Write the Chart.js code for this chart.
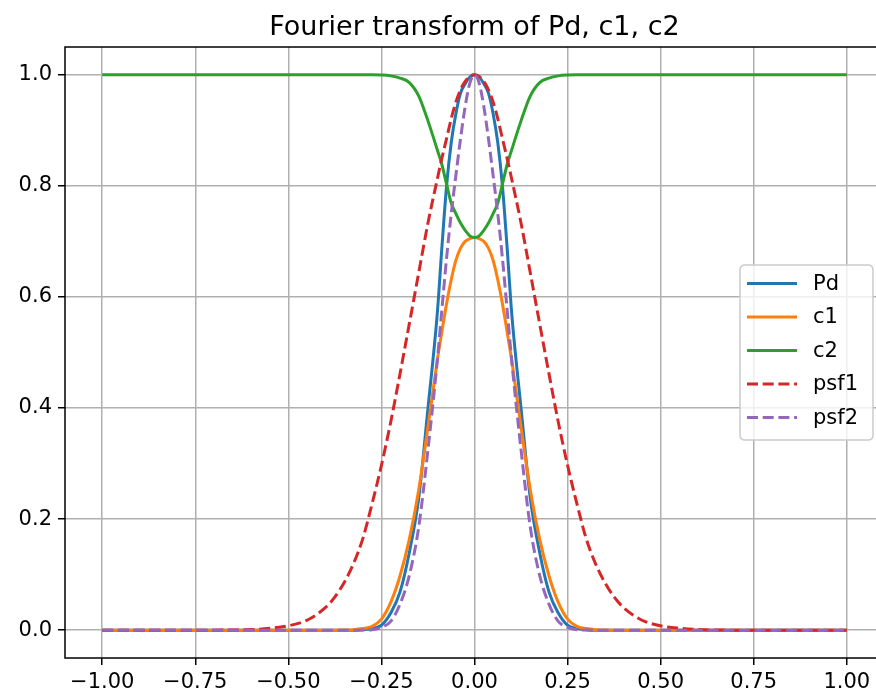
<!DOCTYPE html>
<html><head><meta charset="utf-8">
<script src="https://cdn.jsdelivr.net/npm/chart.js@4/dist/chart.umd.min.js"></script>
<style>html,body{margin:0;padding:0;background:#fff;overflow:hidden;}#wrap{width:884px;height:696px;}</style>
</head><body><div id="wrap"><canvas id="c" width="884" height="696"></canvas></div>
<script>
const titleText = 'Fourier transform of Pd, c1, c2';
const seriesNames = ['Pd', 'c1', 'c2', 'psf1', 'psf2'];
const xValues = [-1, -0.9, -0.8, -0.7, -0.65, -0.6, -0.55, -0.5, -0.45, -0.4, -0.375, -0.35, -0.325, -0.3, -0.275, -0.25, -0.225, -0.2, -0.175, -0.15, -0.125, -0.1, -0.0875, -0.075, -0.0625, -0.05, -0.0375, -0.025, -0.0125, 0,
  0.0125, 0.025, 0.0375, 0.05, 0.0625, 0.075, 0.0875, 0.1, 0.125, 0.15, 0.175, 0.2, 0.225, 0.25, 0.275, 0.3, 0.325, 0.35, 0.375, 0.4, 0.45, 0.5, 0.55, 0.6, 0.65, 0.7, 0.8, 0.9, 1];
const pd = [0, 0, 0, 0, 0, 0, 0, 0, 0, 0, 0, 0, 0, 0.001, 0.003, 0.009, 0.031, 0.069, 0.14, 0.237, 0.40, 0.57, 0.69, 0.80, 0.878, 0.93, 0.967, 0.984, 0.996, 1.0,
  0.996, 0.984, 0.967, 0.93, 0.878, 0.80, 0.69, 0.57, 0.40, 0.237, 0.14, 0.069, 0.031, 0.009, 0.003, 0.001, 0, 0, 0, 0, 0, 0, 0, 0, 0, 0, 0, 0, 0];
const c1 = [0, 0, 0, 0, 0, 0, 0, 0, 0, 0, 0, 0.0005, 0.001, 0.003, 0.007, 0.02, 0.05, 0.098, 0.164, 0.252, 0.366, 0.486, 0.538, 0.588, 0.631, 0.666, 0.688, 0.700, 0.705, 0.707,
  0.705, 0.700, 0.688, 0.666, 0.631, 0.588, 0.538, 0.486, 0.366, 0.252, 0.164, 0.098, 0.05, 0.02, 0.007, 0.003, 0.001, 0.0005, 0, 0, 0, 0, 0, 0, 0, 0, 0, 0, 0];
const c2 = [1, 1, 1, 1, 1, 1, 1, 1, 1, 1, 1, 1, 1, 1, 1, 0.9995, 0.998, 0.994, 0.986, 0.962, 0.917, 0.865, 0.838, 0.803, 0.769, 0.75, 0.733, 0.72, 0.71, 0.707,
  0.71, 0.72, 0.733, 0.75, 0.769, 0.803, 0.838, 0.865, 0.917, 0.962, 0.986, 0.994, 0.998, 0.9995, 1, 1, 1, 1, 1, 1, 1, 1, 1, 1, 1, 1, 1, 1, 1];
const psf1 = [0, 0, 0, 0.0001, 0.0004, 0.0012, 0.0035, 0.008, 0.018, 0.041, 0.06, 0.086, 0.12, 0.165, 0.228, 0.297, 0.375, 0.462, 0.552, 0.643, 0.733, 0.812, 0.85, 0.885, 0.921, 0.951, 0.973, 0.988, 0.997, 1.0,
  0.997, 0.988, 0.973, 0.951, 0.921, 0.885, 0.85, 0.812, 0.733, 0.643, 0.552, 0.462, 0.375, 0.297, 0.228, 0.165, 0.12, 0.086, 0.06, 0.041, 0.018, 0.008, 0.0035, 0.0012, 0.0004, 0.0001, 0, 0, 0];
const psf2 = [0, 0, 0, 0, 0, 0, 0, 0, 0, 0, 0, 0, 0, 0.0003, 0.001, 0.005, 0.016, 0.047, 0.099, 0.185, 0.325, 0.485, 0.578, 0.67, 0.75, 0.819, 0.885, 0.943, 0.985, 1.0,
  0.985, 0.943, 0.885, 0.819, 0.75, 0.67, 0.578, 0.485, 0.325, 0.185, 0.099, 0.047, 0.016, 0.005, 0.001, 0.0003, 0, 0, 0, 0, 0, 0, 0, 0, 0, 0, 0, 0, 0];
const xTicks = [-1, -0.75, -0.5, -0.25, 0, 0.25, 0.5, 0.75, 1];
const yTicks = [0, 0.2, 0.4, 0.6, 0.8, 1.0];

const FONT = '"DejaVu Sans", sans-serif';
const colors = ['#1f77b4', '#ff7f0e', '#2ca02c', '#d62728', '#9467bd'];
const dashes = [[], [], [], [11, 4.7], [11, 4.7]];
const allSeries = [pd, c1, c2, psf1, psf2];
const fmt = (v, d) => { const s = Number(v).toFixed(d); return s.replace('-', '\u2212'); };

const datasets = allSeries.map((arr, i) => ({
  label: seriesNames[i],
  data: xValues.map((x, j) => ({ x: x, y: arr[j] })),
  borderColor: colors[i],
  backgroundColor: colors[i],
  borderWidth: 3,
  borderDash: dashes[i],
  pointRadius: 0,
  fill: false,
  cubicInterpolationMode: 'monotone',
  order: 5 - i
}));

const decor = {
  id: 'decor',
  afterDatasetsDraw(chart) {
    const ctx = chart.ctx, a = chart.chartArea;
    ctx.save();
    ctx.strokeStyle = '#000'; ctx.lineWidth = 1.5;
    ctx.strokeRect(a.left, a.top, a.right - a.left, a.bottom - a.top);
    const lx = 740, ly = 265, lw = 133, lh = 175, r = 5;
    ctx.beginPath();
    ctx.moveTo(lx + r, ly); ctx.lineTo(lx + lw - r, ly); ctx.quadraticCurveTo(lx + lw, ly, lx + lw, ly + r);
    ctx.lineTo(lx + lw, ly + lh - r); ctx.quadraticCurveTo(lx + lw, ly + lh, lx + lw - r, ly + lh);
    ctx.lineTo(lx + r, ly + lh); ctx.quadraticCurveTo(lx, ly + lh, lx, ly + lh - r);
    ctx.lineTo(lx, ly + r); ctx.quadraticCurveTo(lx, ly, lx + r, ly);
    ctx.closePath();
    ctx.fillStyle = 'rgba(255,255,255,0.8)'; ctx.fill();
    ctx.strokeStyle = '#cccccc'; ctx.lineWidth = 1.5; ctx.stroke();
    const rowsY = [283.5, 317, 350.5, 384, 417.5];
    ctx.font = '21px ' + FONT; ctx.textBaseline = 'middle'; ctx.textAlign = 'left';
    seriesNames.forEach((n, i) => {
      ctx.beginPath();
      ctx.setLineDash(dashes[i]);
      ctx.strokeStyle = colors[i]; ctx.lineWidth = 3;
      ctx.moveTo(747, rowsY[i]); ctx.lineTo(797, rowsY[i]); ctx.stroke();
      ctx.setLineDash([]);
      ctx.fillStyle = '#000';
      ctx.fillText(n, 813, rowsY[i] + 1);
    });
    ctx.font = '27px ' + FONT; ctx.textAlign = 'center'; ctx.textBaseline = 'alphabetic';
    ctx.fillStyle = '#000';
    ctx.fillText(titleText, (a.left + a.right) / 2, 35);
    ctx.restore();
  }
};

new Chart(document.getElementById('c'), {
  type: 'line',
  data: { datasets },
  options: {
    responsive: false,
    animation: false,
    devicePixelRatio: 1,
    layout: { padding: { top: 47, left: 0, right: 0, bottom: 0 } },
    plugins: { legend: { display: false }, title: { display: false }, tooltip: { enabled: false } },
    scales: {
      x: {
        type: 'linear', min: -1.1, max: 1.1,
        afterBuildTicks: s => { s.ticks = xTicks.map(v => ({ value: v })); },
        afterFit: s => { s.height = 38; },
        grid: { color: '#b0b0b0', lineWidth: 1.5, drawTicks: true, tickLength: 7, tickColor: '#000', tickWidth: 1.5 },
        border: { display: false },
        ticks: { font: { family: FONT, size: 21 }, color: '#000', padding: 5, maxRotation: 0, autoSkip: false, callback: v => fmt(v, 2) }
      },
      y: {
        type: 'linear', min: -0.05, max: 1.05,
        afterBuildTicks: s => { s.ticks = yTicks.map(v => ({ value: v })); },
        afterFit: s => { s.width = 65; },
        grid: { color: '#b0b0b0', lineWidth: 1.5, drawTicks: true, tickLength: 7, tickColor: '#000', tickWidth: 1.5 },
        border: { display: false },
        ticks: { font: { family: FONT, size: 21 }, color: '#000', padding: 6, autoSkip: false, callback: v => fmt(v, 1) }
      }
    }
  },
  plugins: [decor]
});
</script></body></html>
